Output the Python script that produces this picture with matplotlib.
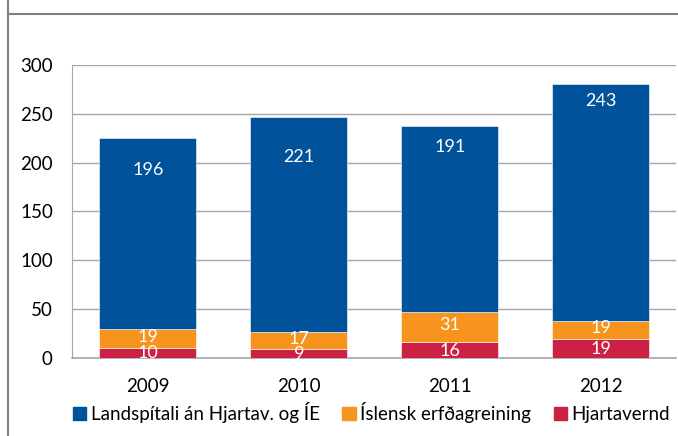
import matplotlib.pyplot as plt
from matplotlib.lines import Line2D
from matplotlib.patches import Patch

# Data
years = ["2009", "2010", "2011", "2012"]
hjartavernd = [10, 9, 16, 19]
erfdagreining = [19, 17, 31, 19]
landspitali = [196, 221, 191, 243]
series_names = ["Landspítali án Hjartav. og ÍE", "Íslensk erfðagreining", "Hjartavernd"]

# where the blue labels sit (data units)
blue_label_y = [193, 206, 216, 263]

c_blue = "#00529B"
c_orange = "#F7941D"
c_red = "#CD2045"

plt.rcParams['font.family'] = ['Lato', 'DejaVu Sans']
plt.rcParams['font.size'] = 13.5

fig = plt.figure(figsize=(6.78, 4.36), dpi=100)
ax = fig.add_axes([0.1066, 0.18, 0.891, 0.67])

x = list(range(len(years)))
w = 0.644
bottom2 = hjartavernd
bottom3 = [a + b for a, b in zip(hjartavernd, erfdagreining)]

ax.bar(x, hjartavernd, w, color=c_red, edgecolor="white", linewidth=0.4, zorder=3)
ax.bar(x, erfdagreining, w, bottom=bottom2, color=c_orange, edgecolor="white", linewidth=0.4, zorder=3)
ax.bar(x, landspitali, w, bottom=bottom3, color=c_blue, edgecolor="white", linewidth=0.4, zorder=3)

# value labels
for i in x:
    ax.text(i, hjartavernd[i] / 2 - 0.8, str(hjartavernd[i]), ha="center", va="center",
            color="white", fontsize=13, zorder=4)
    ax.text(i, bottom2[i] + erfdagreining[i] / 2 + 2, str(erfdagreining[i]), ha="center",
            va="center", color="white", fontsize=13, zorder=4)
    ax.text(i, blue_label_y[i], str(landspitali[i]), ha="center", va="center",
            color="white", fontsize=13, zorder=4)

ax.set_xlim(-0.5, 3.5)
ax.set_ylim(0, 300)
ax.set_yticks(range(0, 301, 50))
ax.set_xticks(x)
ax.set_xticklabels(years)
ax.tick_params(axis="y", length=0, pad=14, labelsize=13.5)
ax.tick_params(axis="x", length=0, pad=15, labelsize=13.5)
ax.grid(axis="y", color="#A6A6A6", linewidth=1, zorder=0)

for s in ["top", "right"]:
    ax.spines[s].set_visible(False)
ax.spines["left"].set_color("#A6A6A6")
ax.spines["bottom"].set_color("#A6A6A6")
ax.spines["bottom"].set_linewidth(1.2)

# legend
handles = [Patch(color=c_blue), Patch(color=c_orange), Patch(color=c_red)]
fig.legend(handles, series_names, loc="center", bbox_to_anchor=(0.548, 0.053),
           ncol=3, frameon=False, fontsize=13.5, handlelength=0.7, handleheight=0.7,
           handletextpad=0.25, columnspacing=1.2)

# outer frame pieces of the original chart box
fig.add_artist(Line2D([7.5 / 678, 7.5 / 678], [0, 1], color="#808080", linewidth=1.5))
fig.add_artist(Line2D([7.5 / 678, 1], [1 - 14 / 436, 1 - 14 / 436], color="#808080", linewidth=1.5))

fig.savefig("out.png", dpi=100)
